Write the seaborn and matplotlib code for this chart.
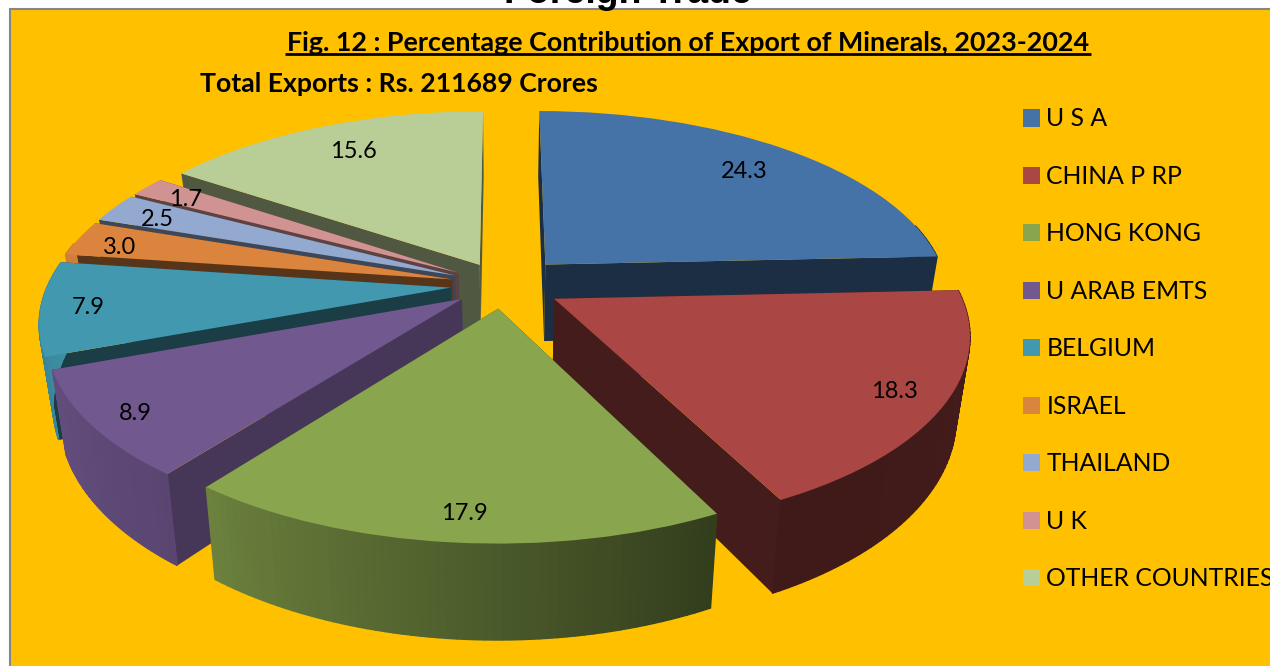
import numpy as np
import seaborn as sns
import matplotlib
matplotlib.use('Agg')
import matplotlib.pyplot as plt
from matplotlib.patches import Polygon, Rectangle
from matplotlib.transforms import Transform

countries = ['U S A', 'CHINA P RP', 'HONG KONG', 'U ARAB EMTS', 'BELGIUM',
             'ISRAEL', 'THAILAND', 'U K', 'OTHER COUNTRIES']
shares = [24.3, 18.3, 17.9, 8.9, 7.9, 3.0, 2.5, 1.7, 15.6]
colors = ['#4572A7', '#AA4643', '#89A54E', '#71588F', '#4198AF',
          '#DB843D', '#93A9CF', '#D19392', '#B9CD96']

# look of the tilted pie
pull = [0.155, 0.145, 0.125, 0.125, 0.13, 0.13, 0.13, 0.13, 0.125]
draw_order = [0, 8, 7, 6, 5, 4, 3, 1, 2]
flat_shade = [0.4, 0.4, 0.4, 0.62, 0.4, 0.4, 0.42, 0.45, 0.43]
label_xy = [(744, 172), (894, 392), (464, 513), (135, 414), (88, 308),
            (120, 247), (157, 220), (186, 199), (353, 152)]
CX, CY, A, B, K = 503, 285, 403, 186, 0.17
WALL = 78


def project(x, y):
    s = 1 / (1 + K * y)
    return CX + A * x * s, CY - B * y * s


def project_low(x, y):
    px, py = project(x, y)
    s = 1 / (1 + K * y)
    return CX + (px - CX) * 0.97, py + WALL * s


class Tilt(Transform):
    input_dims = output_dims = 2
    is_affine = False
    has_inverse = False

    def transform_non_affine(self, values):
        v = np.asarray(values, dtype=float)
        px, py = project(v[:, 0], v[:, 1])
        return np.column_stack([px, py])


def side_shade(theta):
    t = (theta + 180) % 360 - 180
    if t > 150:
        t -= 360
    return np.interp(t, [-200, -130, -63, 0], [0.98, 0.8, 0.37, 0.4])


sns.set_theme(style='white', palette=sns.color_palette(colors))
plt.rcParams['font.family'] = ['Lato', 'DejaVu Sans']

fig = plt.figure(figsize=(12.7, 6.66), dpi=100, facecolor='white')
ax = fig.add_axes([0, 0, 1, 1])
wedges, _ = ax.pie(shares, explode=pull, colors=colors, startangle=90,
                   counterclock=False, wedgeprops={'linewidth': 0})
ax.set_aspect('auto')
ax.set_xlim(0, 1270)
ax.set_ylim(666, 0)
ax.axis('off')

ax.add_patch(Rectangle((10, 9), 1300, 700, facecolor='#FFC000',
                       edgecolor='#868686', linewidth=1.5, zorder=0))

tilt = Tilt() + ax.transData
for rank, i in enumerate(draw_order):
    w = wedges[i]
    z = 2 + rank
    w.set_transform(tilt)
    w.set_zorder(z + 0.5)
    cx, cy = w.center
    base = np.array(matplotlib.colors.to_rgb(colors[i]))
    # flat cut faces first, then the outer rim
    for th in (w.theta1, w.theta2):
        ex, ey = cx + np.cos(np.radians(th)), cy + np.sin(np.radians(th))
        pts = [project(cx, cy), project(ex, ey), project_low(ex, ey), project_low(cx, cy)]
        ax.add_patch(Polygon(pts, facecolor=base * flat_shade[i], edgecolor='none', zorder=z))
    steps = np.linspace(w.theta1, w.theta2, 60)
    for a, b in zip(steps[:-1], steps[1:]):
        x0, y0 = cx + np.cos(np.radians(a)), cy + np.sin(np.radians(a))
        x1, y1 = cx + np.cos(np.radians(b)), cy + np.sin(np.radians(b))
        if y0 > cy + 0.2 and y1 > cy + 0.2:
            continue
        pts = [project(x0, y0), project(x1, y1), project_low(x1, y1), project_low(x0, y0)]
        col = base * side_shade((a + b) / 2)
        ax.add_patch(Polygon(pts, facecolor=col, edgecolor=col, linewidth=1.0, zorder=z + 0.1))

for v, (x, y) in zip(shares, label_xy):
    ax.text(x, y, f'{v:.1f}', ha='center', va='center', fontsize=17, color='black', zorder=30)

ax.text(628, 3, 'Foreign Trade', ha='center', va='baseline', fontsize=27,
        fontweight='bold', family='Liberation Sans', color='black', zorder=1)
ax.text(688, 43, 'Fig. 12 : Percentage Contribution of Export of Minerals, 2023-2024',
        ha='center', va='center', fontsize=19.4, fontweight='bold', color='black', zorder=30)
ax.hlines(54, 285, 1091, color='black', linewidth=2, zorder=30)
ax.text(399, 84, 'Total Exports : Rs. 211689 Crores', ha='center', va='center',
        fontsize=19.2, fontweight='bold', color='black', zorder=30)

leg = ax.legend(wedges, countries, loc='upper left', bbox_to_anchor=(1023 / 1270, 1 - 107.5 / 666),
                bbox_transform=fig.transFigure, frameon=False, fontsize=17.8,
                labelspacing=1.395, handlelength=0.7, handleheight=0.7,
                handletextpad=0.25, borderpad=0, borderaxespad=0, labelcolor='black')
leg.set_zorder(30)

fig.savefig('out.png', dpi=100)
